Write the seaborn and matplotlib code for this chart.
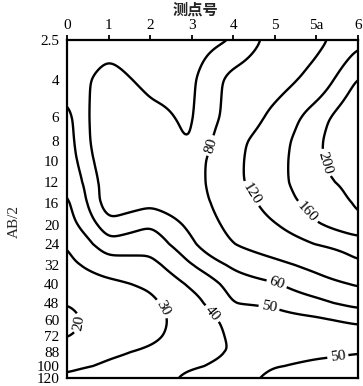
import numpy as np
import matplotlib
matplotlib.use("Agg")
import matplotlib.pyplot as plt
import seaborn as sns

# ---------------- data ----------------
stations = ["0", "1", "2", "3", "4", "5", "5a", "6"]
ab2 = [2.5, 4, 6, 8, 10, 12, 16, 20, 24, 32, 40, 48, 60, 72, 88, 100, 120]

# apparent resistivity per station, one value per AB/2 (top to bottom)
rho_0 = [54, 55, 47, 46, 45, 42, 38, 36, 30, 28, 25, 20, 18, 19.5, 23, 29, 31]
rho_1 = [56, 64, 74, 74, 70.5, 67, 68, 57, 47, 35, 28, 25, 24, 24, 28, 32, 33]
rho_2 = [54, 57, 63, 66, 67, 67, 63, 50.5, 44, 37, 31.5, 28, 27, 28, 31.5, 35, 36]
rho_3 = [53, 57, 58, 59, 68, 68, 68, 63, 58, 50, 42, 36, 34.5, 34.5, 36, 39, 42.5]
rho_4 = [60, 90, 93, 110, 112, 112, 98, 89, 80, 62, 54, 50.5, 43, 41.5, 40.5, 42.8, 46]
rho_5 = [92, 104, 131, 144, 147, 149, 141, 118, 98, 73, 58.5, 51, 47.5, 45, 45, 50, 53]
rho_6 = [110, 134, 182, 191, 192, 186, 177, 159, 120, 88, 70, 56, 48.5, 46, 47, 53, 56]
rho_7 = [150, 205, 245, 260, 250, 215, 205, 195, 138, 115, 83, 64, 51, 47, 48.5, 55, 58]

levels = [20, 30, 40, 50, 60, 80, 120, 160, 200]
level_labels = ["20", "30", "40", "50", "60", "80", "120", "160", "200"]

# axis scale of the original drawing: relative depth of each AB/2 tick
axis_depth = [0, 40, 77, 101, 121, 142, 163, 185, 204, 225, 244, 263, 280, 296, 312, 326, 338]

# ---------------- grid + smooth rendering ----------------
Z = np.array([rho_0, rho_1, rho_2, rho_3, rho_4, rho_5, rho_6, rho_7], float).T
xs = np.arange(len(stations), dtype=float)
ly = np.log10(ab2)
logz = np.log10(Z)

xf = np.linspace(xs[0], xs[-1], 281)
lyf = np.linspace(ly[0], ly[-1], 301)
tmp = np.column_stack([np.interp(lyf, ly, logz[:, j]) for j in range(len(xs))])
zf = np.vstack([np.interp(xf, xs, tmp[i]) for i in range(len(lyf))])


def gblur(a, sx, sy):
    def k(s):
        r = int(np.ceil(3 * s))
        t = np.arange(-r, r + 1)
        g = np.exp(-0.5 * (t / s) ** 2)
        return g / g.sum(), r
    kx, rx = k(sx)
    ky, ry = k(sy)
    a = np.pad(a, ((0, 0), (rx, rx)), mode="edge")
    a = np.apply_along_axis(lambda v: np.convolve(v, kx, mode="valid"), 1, a)
    a = np.pad(a, ((ry, ry), (0, 0)), mode="edge")
    a = np.apply_along_axis(lambda v: np.convolve(v, ky, mode="valid"), 0, a)
    return a


zs = 10 ** gblur(zf, 5.0, 5.0)
XX, YY = np.meshgrid(xf, 10 ** lyf)


def fwd(v):
    v = np.clip(np.asarray(v, float), 1e-6, None)
    return np.interp(np.log10(v), ly, axis_depth)


def inv(p):
    return 10 ** np.interp(np.asarray(p, float), axis_depth, ly)


# ---------------- figure ----------------
sns.set_theme(style="white")
plt.rcParams["font.family"] = ["Liberation Serif", "Noto Sans CJK SC"]
plt.rcParams["axes.unicode_minus"] = False

fig = plt.figure(figsize=(3.63, 3.86), dpi=100)
ax = fig.add_axes([67 / 363, 1 - 378 / 386, (358 - 67) / 363, (378 - 40) / 386])
ax.set_yscale("function", functions=(fwd, inv))

cs = ax.contour(XX, YY, zs, levels=levels, colors="black", linewidths=1.7)

ax.set_ylim(ab2[-1], ab2[0])
ax.set_xlim(xs[0], xs[-1])
ax.yaxis.set_minor_locator(matplotlib.ticker.NullLocator())
ax.xaxis.set_minor_locator(matplotlib.ticker.NullLocator())
ax.set_yticks(ab2)
ax.set_yticklabels([("%g" % v) for v in ab2])
ax.set_xticks(xs)
ax.set_xticklabels(stations)
ax.xaxis.tick_top()
ax.tick_params(axis="both", which="major", direction="out", length=3.5, width=1.3,
               labelsize=11, colors="black", pad=2)
for sp in ax.spines.values():
    sp.set_linewidth(1.6)
    sp.set_color("black")

label_pos = [(3.44, 8.4), (4.31, 14.7), (5.68, 18.2), (6.18, 10.2), (5.05, 39.5),
             (4.88, 48), (6.52, 93), (3.46, 56), (2.48, 49), (0.26, 62)]
cl = ax.clabel(cs, fmt={lv: t for lv, t in zip(levels, level_labels)}, inline=True,
               fontsize=11, manual=label_pos, inline_spacing=3)

fig.text(195 / 363, 1 - 10 / 386, "测点号", ha="center", va="center", fontsize=11,
         fontweight="bold", family=["Noto Sans CJK SC"])
fig.text(14 / 363, 1 - 221 / 386, "AB/2", ha="center", va="center", fontsize=11,
         rotation=90)

fig.savefig("out.png", dpi=100)
